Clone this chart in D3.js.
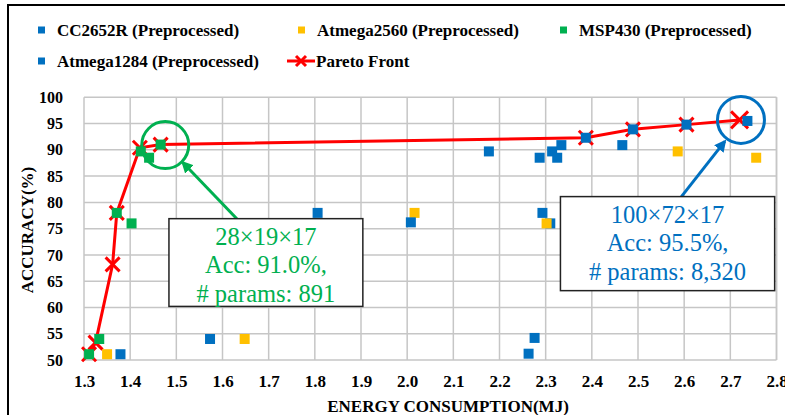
<!DOCTYPE html>
<html>
<head>
<meta charset="utf-8">
<script src="https://cdn.jsdelivr.net/npm/d3@7"></script>
<style>
  body { margin: 0; background: #fff; }
  svg { display: block; }
  svg text { font-family: "Liberation Serif", "Times New Roman", Tinos, Times, "DejaVu Serif", serif; }
</style>
</head>
<body>
<svg id="chart"></svg>
<script>
// data: [energy (MJ), accuracy (%)]
const cc2652r = [[2.263, 51.2], [2.276, 54.2], [2.293, 78.0], [2.310, 76.0], [2.314, 89.7], [2.325, 88.5],
                 [2.334, 90.9], [2.387, 92.3], [2.489, 93.9], [2.605, 94.8], [2.737, 95.5]];
const atmega2560 = [[1.350, 51.1], [1.648, 54.0], [2.016, 78.0], [2.302, 76.0], [2.586, 89.7], [2.756, 88.5]];
const msp430 = [[1.311, 51.1], [1.333, 54.0], [1.371, 78.0], [1.403, 76.0], [1.423, 89.7], [1.441, 88.5], [1.466, 91.0]];
const atmega1284 = [[1.379, 51.1], [1.573, 54.0], [1.806, 78.0], [2.008, 76.2], [2.177, 89.7], [2.287, 88.5], [2.466, 90.9]];
const pareto = [[1.311, 51.1], [1.325, 53.3], [1.362, 68.2], [1.371, 78.0], [1.421, 90.4], [1.466, 91.0],
                [2.387, 92.3], [2.489, 93.9], [2.605, 94.8], [2.720, 95.7]];

const xTicks = d3.range(13, 29).map(v => v / 10);
const yTicks = d3.range(50, 101, 5);

const seriesNames = ["CC2652R (Preprocessed)", "Atmega2560 (Preprocessed)", "MSP430 (Preprocessed)", "Atmega1284 (Preprocessed)", "Pareto Front"];
const seriesColors = ["#0070c0", "#ffc000", "#00b050", "#0070c0", "#ff0000"];

// callouts: highlighted point, box corners and arrow in data units
const callouts = [
  { center: [1.476, 90.9], box: [[1.484, 76.9], [1.904, 60.2]], arrow: [[1.631, 76.9], [1.514, 87.6]],
    color: "#00b050", lines: ["28×19×17", "Acc: 91.0%,", "# params: 891"] },
  { center: [2.723, 95.7], box: [[2.332, 81.1], [2.796, 63.2]], arrow: [[2.594, 81.1], [2.688, 91.6]],
    color: "#0070c0", lines: ["100×72×17", "Acc: 95.5%,", "# params: 8,320"] }
];

const width = 785, height = 415;
const svg = d3.select("#chart").attr("width", width).attr("height", height);

// figure frame
svg.append("rect")
   .attr("x", 8).attr("y", 5)
   .attr("width", 800).attr("height", 430)
   .attr("fill", "none").attr("stroke", "#000").attr("stroke-width", 2);

const x = d3.scaleLinear([1.3, 2.8], [84, 776.5]);
const y = d3.scaleLinear([50, 100], [360, 97.3]);

// grid
const grid = svg.append("g").attr("stroke", "#c6c6c6").attr("stroke-width", 1.5);
grid.selectAll("line.v").data(xTicks).join("line")
    .attr("x1", d => x(d)).attr("x2", d => x(d))
    .attr("y1", y(50)).attr("y2", y(100));
grid.selectAll("line.h").data(yTicks).join("line")
    .attr("x1", x(1.3)).attr("x2", x(2.8))
    .attr("y1", d => y(d)).attr("y2", d => y(d));
grid.append("line")
    .attr("x1", x(2.8)).attr("x2", x(2.8)).attr("y1", y(50)).attr("y2", y(100));

// axes
svg.append("g")
   .attr("transform", `translate(0, ${y(50)})`)
   .call(d3.axisBottom(x).tickValues(xTicks).tickFormat(d3.format(".1f")).tickSize(0).tickPadding(15))
   .call(g => g.select(".domain").remove())
   .call(g => g.attr("font-family", null))
   .call(g => g.selectAll("text").attr("font-size", 17).attr("font-weight", "bold").attr("fill", "#000"));

svg.append("g")
   .attr("transform", `translate(${x(1.3)}, 0)`)
   .call(d3.axisLeft(y).tickValues(yTicks).tickSize(0).tickPadding(21))
   .call(g => g.select(".domain").remove())
   .call(g => g.attr("font-family", null))
   .call(g => g.selectAll("text").attr("font-size", 16).attr("font-weight", "bold").attr("fill", "#000"));

svg.append("text")
   .attr("x", 448).attr("y", 412)
   .attr("text-anchor", "middle")
   .attr("font-size", 17).attr("font-weight", "bold")
   .text("ENERGY CONSUMPTION(MJ)");

svg.append("text")
   .attr("transform", "translate(33, 230) rotate(-90)")
   .attr("text-anchor", "middle")
   .attr("font-size", 17).attr("font-weight", "bold")
   .text("ACCURACY(%)");

// pareto front (drawn under the squares)
const line = d3.line().x(d => x(d[0])).y(d => y(d[1]));
const cross = s => `M${-s},${-s}L${s},${s}M${-s},${s}L${s},${-s}`;

svg.append("path")
   .datum(pareto)
   .attr("d", line)
   .attr("fill", "none").attr("stroke", "#ff0000").attr("stroke-width", 3);

svg.append("g").selectAll("path")
   .data(pareto).join("path")
   .attr("transform", d => `translate(${x(d[0])}, ${y(d[1])})`)
   .attr("d", (d, i) => cross(i === pareto.length - 1 ? 8.5 : 7))
   .attr("stroke", "#ff0000").attr("stroke-width", 3).attr("fill", "none");

// square markers, series order as in the legend
const sq = 10;
[cc2652r, atmega2560, msp430, atmega1284].forEach((data, k) => {
  svg.append("g").selectAll("rect")
     .data(data).join("rect")
     .attr("x", d => x(d[0]) - sq / 2).attr("y", d => y(d[1]) - sq / 2)
     .attr("width", sq).attr("height", sq)
     .attr("fill", seriesColors[k]);
});

// callouts
svg.append("defs").selectAll("marker")
   .data(callouts).join("marker")
   .attr("id", (d, i) => "arrow" + i)
   .attr("viewBox", "0 0 10 10").attr("refX", 8).attr("refY", 5)
   .attr("markerWidth", 4).attr("markerHeight", 4)
   .attr("orient", "auto")
   .append("path").attr("d", "M0,0L10,5L0,10z").attr("fill", d => d.color);

callouts.forEach((c, i) => {
  const g = svg.append("g");
  g.append("circle")
   .attr("cx", x(c.center[0])).attr("cy", y(c.center[1])).attr("r", 23.5)
   .attr("fill", "none").attr("stroke", c.color).attr("stroke-width", 3);
  g.append("line")
   .attr("x1", x(c.arrow[0][0])).attr("y1", y(c.arrow[0][1]))
   .attr("x2", x(c.arrow[1][0])).attr("y2", y(c.arrow[1][1]))
   .attr("stroke", c.color).attr("stroke-width", 3)
   .attr("marker-end", `url(#arrow${i})`);
  const x0 = x(c.box[0][0]), y0 = y(c.box[0][1]), x1 = x(c.box[1][0]), y1 = y(c.box[1][1]);
  g.append("rect")
   .attr("x", x0).attr("y", y0).attr("width", x1 - x0).attr("height", y1 - y0)
   .attr("fill", "#fff").attr("stroke", "#222").attr("stroke-width", 1.5);
  g.selectAll("text.l").data(c.lines).join("text")
   .attr("x", (x0 + x1) / 2)
   .attr("y", (d, j) => y0 + 26 + j * 28.5)
   .attr("text-anchor", "middle")
   .attr("font-size", 24.5)
   .attr("fill", c.color)
   .text(d => d);
});

// legend
const legendPos = [[38, 30], [298, 30], [560, 30], [38, 61], [287, 61]];
const legend = svg.append("g").selectAll("g")
   .data(seriesNames).join("g")
   .attr("transform", (d, i) => `translate(${legendPos[i][0]}, ${legendPos[i][1]})`);

legend.each(function(d, i) {
  const g = d3.select(this);
  if (i < 4) {
    g.append("rect").attr("x", 0).attr("y", -3.5).attr("width", 7).attr("height", 7).attr("fill", seriesColors[i]);
    g.append("text").attr("x", 19).attr("y", 6)
     .attr("font-size", 17).attr("font-weight", "bold").text(d);
  } else {
    g.append("line").attr("x1", 0).attr("x2", 28).attr("stroke", seriesColors[i]).attr("stroke-width", 3);
    g.append("path").attr("transform", "translate(14, 0)").attr("d", cross(5))
     .attr("stroke", seriesColors[i]).attr("stroke-width", 3);
    g.append("text").attr("x", 29).attr("y", 6)
     .attr("font-size", 17).attr("font-weight", "bold").text(d);
  }
});
</script>
</body>
</html>
